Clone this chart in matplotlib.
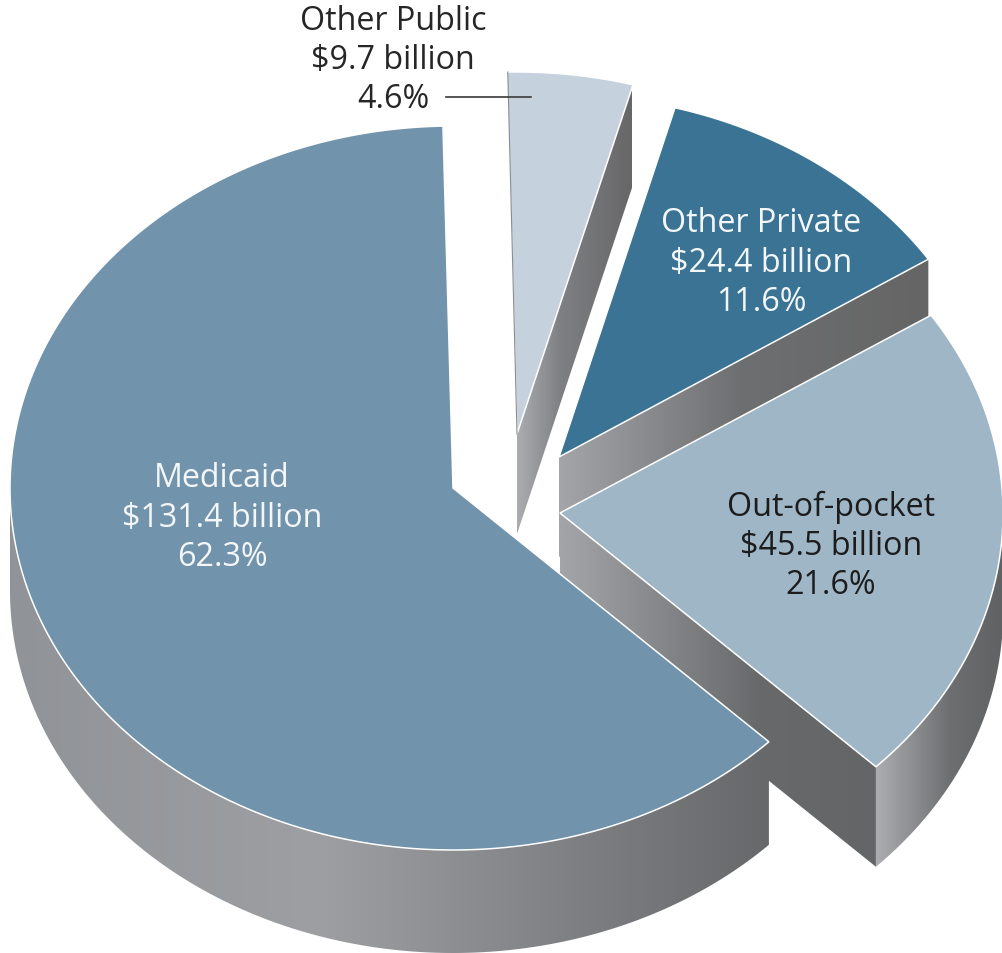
import numpy as np
import matplotlib
matplotlib.use("Agg")
import matplotlib.pyplot as plt
from matplotlib.colors import LinearSegmentedColormap
from matplotlib.patches import Polygon

# Data
categories = ["Medicaid", "Other Public", "Other Private", "Out-of-pocket"]
billions = [131.4, 9.7, 24.4, 45.5]
shares = [62.3, 4.6, 11.6, 21.6]

# Style and layout
top_colors = {"Medicaid": "#7193AB", "Other Public": "#C5D2DD",
              "Other Private": "#3A7393", "Out-of-pocket": "#9FB6C6"}
text_colors = {"Medicaid": "#F4F7F9", "Other Public": "#262626",
               "Other Private": "#F4F7F9", "Out-of-pocket": "#1C1C1C"}
tips = {"Medicaid": (453, 489), "Other Public": (517, 435),
        "Other Private": (559, 458), "Out-of-pocket": (560, 514)}
radii_x = {"Medicaid": 443, "Other Public": 441,
           "Other Private": 441, "Out-of-pocket": 443}
depths = {"Medicaid": 103, "Other Public": 100,
          "Other Private": 100, "Out-of-pocket": 100}
label_pos = {"Medicaid": (222, 479), "Other Public": (393, 21),
             "Other Private": (761, 224), "Out-of-pocket": (831, 507)}
RY = 362
START = 91.3
LINE_H = 39.5
FONT = "Open Sans"

fig = plt.figure(figsize=(10.02, 9.54), dpi=100)
ax = fig.add_axes([0, 0, 1, 1])


def pt(name, deg):
    cx, cy = tips[name]
    a = np.radians(deg)
    return cx + radii_x[name] * np.cos(a), cy - RY * np.sin(a)


def arc(name, a0, a1, n=240):
    xs, ys = pt(name, np.linspace(a0, a1, n))
    return np.column_stack([xs, ys])


def shade(poly, stops, colors, z):
    """Horizontal grey gradient clipped to a polygon."""
    cmap = LinearSegmentedColormap.from_list(
        "g", list(zip((np.array(stops) - stops[0]) / (stops[-1] - stops[0]), colors)))
    im = ax.imshow(np.linspace(0, 1, 512)[None, :], cmap=cmap, vmin=0, vmax=1,
                   extent=(stops[0], stops[-1], 1000, 0), aspect="auto",
                   interpolation="bilinear", zorder=z)
    patch = Polygon(poly, closed=True, transform=ax.transData, fc="none", ec="none")
    ax.add_patch(patch)
    im.set_clip_path(patch)


def top_face(name, a0, a1, z):
    poly = np.vstack([[tips[name]], arc(name, a0, a1)])
    ax.add_patch(Polygon(poly, closed=True, fc=top_colors[name], ec="white",
                         lw=1.1, joinstyle="miter", zorder=z))


def cut_face(name, deg, stops, colors, z):
    tip = np.array(tips[name], float)
    edge = np.array(pt(name, deg))
    d = np.array([0, depths[name]])
    shade(np.array([tip, edge, edge + d, tip + d]), stops, colors, z)


def rim(name, a0, a1, stops, colors, z):
    top = arc(name, a0, a1)
    shade(np.vstack([top, (top + [0, depths[name]])[::-1]]), stops, colors, z)


# Angles run clockwise from START, following the order of the slices
total = sum(billions)
sweep = {c: v / total * 360 for c, v in zip(categories, billions)}
pub0, pub1 = START, START - sweep["Other Public"]
pri0, pri1 = pub1, pub1 - sweep["Other Private"]
oop0, oop1 = pri1, pri1 - sweep["Out-of-pocket"]
med0, med1 = oop1, oop1 - sweep["Medicaid"]

cut_face("Other Public", pub1, [517, 560, 632],
         ["#ABADB0", "#7F8083", "#676768"], 1)
top_face("Other Public", pub0, pub1, 2)
ax.plot(*zip(tips["Other Public"], pt("Other Public", pub0 - 0.1)),
        color="#8A8C8F", lw=0.8, zorder=3)

cut_face("Other Private", pri1, [559, 740, 930],
         ["#A3A5A8", "#6E6F71", "#656565"], 3)
top_face("Other Private", pri0, pri1, 4)

cut_face("Out-of-pocket", oop1, [560, 760, 878],
         ["#A3A5A8", "#67696B", "#636567"], 5)
rim("Out-of-pocket", oop1, oop1 + sweep["Out-of-pocket"] * 0.6, [876, 950, 1004],
    ["#ABADB0", "#6C6E70", "#5F6163"], 5)
top_face("Out-of-pocket", oop0, oop1, 6)

rim("Medicaid", 180, 360 + med0, [9, 320, 770],
    ["#909397", "#9D9FA3", "#66686A"], 7)
top_face("Medicaid", med0, med1, 8)

# Labels
for cat, v, s in zip(categories, billions, shares):
    x, y = label_pos[cat]
    for i, line in enumerate([cat, f"${v} billion", f"{s}%"]):
        ax.text(x, y + i * LINE_H, line, color=text_colors[cat], family=FONT,
                fontsize=23.2, ha="center", va="center", zorder=10)

# Leader for the small slice
ax.plot([446, 531], [98, 98], color="#3A3A3A", lw=1.2, zorder=10)

ax.set_xlim(0, 1002)
ax.set_ylim(954, 0)
ax.axis("off")
fig.savefig("out.png", dpi=100, facecolor="white")
